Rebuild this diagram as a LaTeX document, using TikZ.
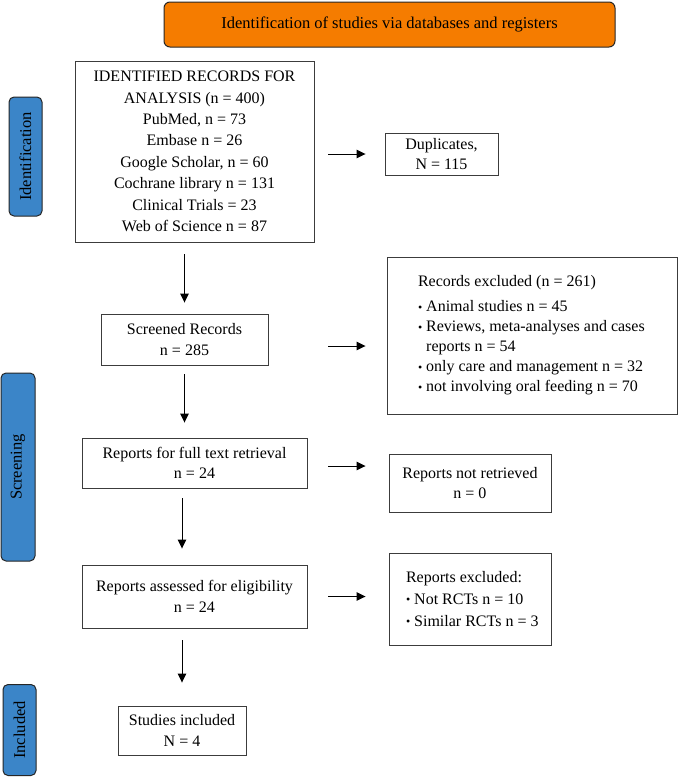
\documentclass[tikz,border=0pt]{standalone}
\usepackage{fontspec}
\setmainfont{Liberation Serif}
\usepackage{graphicx}
\usetikzlibrary{arrows.meta}
\definecolor{bannerorange}{RGB}{245,124,0}
\definecolor{sideblue}{RGB}{59,133,200}
\definecolor{edgegray}{RGB}{60,60,60}
\newcommand{\bul}{\raisebox{0.1ex}{\scalebox{0.75}{\textbullet}}\ }
\begin{document}
\begin{tikzpicture}[x=1pt,y=-1pt]
\tikzset{
 box/.style={draw=edgegray, line width=0.9pt, fill=white, inner sep=0pt, align=center, font=\fontsize{16}{20.5}\selectfont},
 side/.style={draw=black!85, line width=1pt, fill=sideblue, rounded corners=5pt, rotate=90, inner sep=0pt, font=\fontsize{16.5}{20}\selectfont},
 arr/.style={line width=1pt, -{Triangle[length=9pt,width=8.5pt]}},
}
\useasboundingbox (0,0) rectangle (679,777);
% banner
\node[draw=black!85, line width=1pt, fill=bannerorange, rounded corners=6pt, minimum width=451pt, minimum height=45pt, inner sep=0pt, font=\fontsize{16.5}{20}\selectfont] (banner) at (389.5,24.5) {Identification of studies via databases and registers};
% side labels
\node[side, minimum width=119pt, minimum height=33pt] (idlab) at (25.5,156.5) {Identification};
\node[side, minimum width=188pt, minimum height=34pt] (scrlab) at (18,467) {Screening};
\node[side, minimum width=91pt, minimum height=33pt] (inclab) at (19.5,730) {Included};
% boxes
\node[box, minimum width=239pt, minimum height=181pt, font=\fontsize{16}{21.4}\selectfont] (ident) at (194.5,151.5) {IDENTIFIED RECORDS FOR\\ANALYSIS (n = 400)\\PubMed, n = 73\\Embase n = 26\\Google Scholar, n = 60\\Cochrane library n = 131\\Clinical Trials = 23\\Web of Science n = 87};
\node[box, minimum width=113pt, minimum height=42pt] (dup) at (441.5,154) {Duplicates,\\N = 115};
\node[box, minimum width=167pt, minimum height=51pt] (screened) at (184.5,339.5) {Screened Records\\n = 285};
\node[box, minimum width=290pt, minimum height=157pt, align=left] (excl) at (532,335.5) {\hspace*{31pt}\parbox{259pt}{\fontsize{16}{20}\selectfont Records excluded (n = 261)\\[5pt]
\bul Animal studies n = 45\\
\bul Reviews, meta-analyses and cases\\
\phantom{\bul}reports n = 54\\
\bul only care and management n = 32\\
\bul not involving oral feeding n = 70}};
\node[box, minimum width=225pt, minimum height=50pt] (fulltext) at (194.5,463) {Reports for full text retrieval\\n = 24};
\node[box, minimum width=162pt, minimum height=58pt] (notret) at (470,483) {Reports not retrieved\\n = 0};
\node[box, minimum width=225pt, minimum height=63pt] (assessed) at (194.5,596.5) {Reports assessed for eligibility\\n = 24};
\node[box, minimum width=162pt, minimum height=92pt, align=left] (rexcl) at (470,599) {\hspace*{17pt}\parbox{145pt}{\fontsize{16}{22}\selectfont Reports excluded:\\
\bul Not RCTs n = 10\\
\bul Similar RCTs n = 3}};
\node[box, minimum width=128pt, minimum height=49pt] (included) at (182,730.5) {Studies included\\N = 4};
% connectors
\draw[arr, shorten <=14pt, shorten >=19pt] (ident.east |- dup.west) -- (dup.west);
\draw[arr, shorten <=12pt, shorten >=11pt] (ident.south -| screened.north) -- (screened.north);
\coordinate (s1) at ([yshift=-6.5pt]screened.east);
\draw[arr, shorten <=60pt, shorten >=21pt] (s1) -- (s1 -| excl.west);
\draw[arr, shorten <=9pt, shorten >=15pt] (screened.south) -- (screened.south |- fulltext.north);
\coordinate (f1) at ([yshift=-3pt]fulltext.east);
\draw[arr, shorten <=21pt, shorten >=23pt] (f1) -- (f1 -| notret.west);
\draw[arr, shorten <=10pt, shorten >=16pt] (fulltext.south -| included.north) -- (assessed.north -| included.north);
\draw[arr, shorten <=21pt, shorten >=23pt] (assessed.east) -- (assessed.east -| rexcl.west);
\draw[arr, shorten <=12pt, shorten >=23pt] (assessed.south -| included.north) -- (included.north);
\end{tikzpicture}
\end{document}
